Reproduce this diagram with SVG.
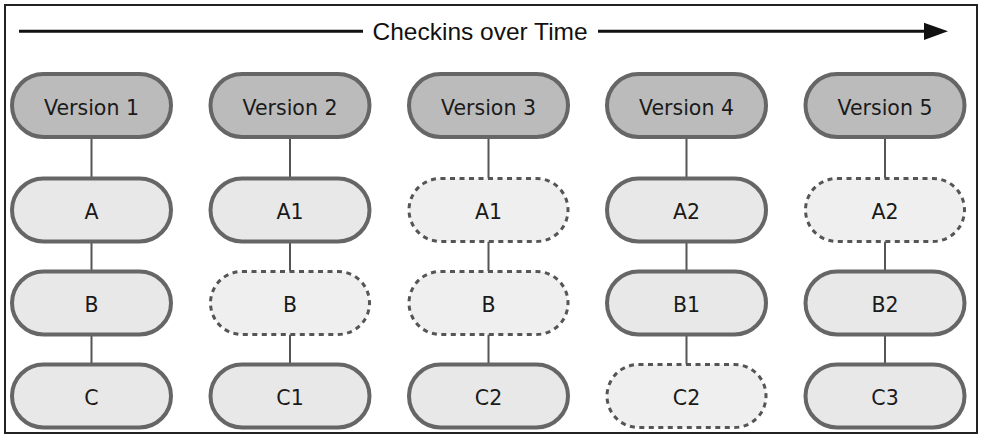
<svg xmlns="http://www.w3.org/2000/svg" width="984" height="442" viewBox="0 0 984 442">
<style>
.frame{fill:#fff;stroke:#222;stroke-width:2}
.ver{fill:#bbbbbb;stroke:#666;stroke-width:4}
.file{fill:#e8e8e8;stroke:#666;stroke-width:4}
.ghost{fill:#efefef;stroke:#555;stroke-width:3;stroke-dasharray:5 4.5}
.lbl{font-family:"DejaVu Sans",Verdana,sans-serif;font-size:20.5px;fill:#1a1a1a;text-anchor:middle}
.title{font-family:"Liberation Sans",Arial,sans-serif;font-size:24.5px;fill:#111}
.conn line{stroke:#555;stroke-width:2}
.axis{stroke:#111;stroke-width:3}
</style>
<rect class="frame" x="5" y="5" width="972" height="428"/>
<g id="timeline">
<line class="axis" x1="19" y1="31.3" x2="363" y2="31.3"/>
<text class="title" x="372.5" y="40">Checkins over Time</text>
<line class="axis" x1="598" y1="31.3" x2="926" y2="31.3"/>
<polygon points="924,22.7 948,31.3 924,40" fill="#111"/>
</g>
<g id="connectors" class="conn">
<line x1="91.5" y1="137" x2="91.5" y2="178.5"/>
<line x1="91.5" y1="241.5" x2="91.5" y2="271.5"/>
<line x1="91.5" y1="334.5" x2="91.5" y2="364.5"/>
<line x1="290" y1="137" x2="290" y2="178.5"/>
<line x1="290" y1="241.5" x2="290" y2="271.5"/>
<line x1="290" y1="334.5" x2="290" y2="364.5"/>
<line x1="488.5" y1="137" x2="488.5" y2="178.5"/>
<line x1="488.5" y1="241.5" x2="488.5" y2="271.5"/>
<line x1="488.5" y1="334.5" x2="488.5" y2="364.5"/>
<line x1="686.5" y1="137" x2="686.5" y2="178.5"/>
<line x1="686.5" y1="241.5" x2="686.5" y2="271.5"/>
<line x1="686.5" y1="334.5" x2="686.5" y2="364.5"/>
<line x1="885" y1="137" x2="885" y2="178.5"/>
<line x1="885" y1="241.5" x2="885" y2="271.5"/>
<line x1="885" y1="334.5" x2="885" y2="364.5"/>
</g>
<g id="v1"><rect class="ver" x="12" y="74" width="159" height="63" rx="31.5"/><text class="lbl" x="91.5" y="114.5">Version 1</text></g>
<g id="v1a"><rect class="file" x="12" y="178.5" width="159" height="63" rx="31.5"/><text class="lbl" x="91.5" y="219">A</text></g>
<g id="v1b"><rect class="file" x="12" y="271.5" width="159" height="63" rx="31.5"/><text class="lbl" x="91.5" y="312">B</text></g>
<g id="v1c"><rect class="file" x="12" y="364.5" width="159" height="63" rx="31.5"/><text class="lbl" x="91.5" y="405">C</text></g>

<g id="v2"><rect class="ver" x="210.5" y="74" width="159" height="63" rx="31.5"/><text class="lbl" x="290" y="114.5">Version 2</text></g>
<g id="v2a"><rect class="file" x="210.5" y="178.5" width="159" height="63" rx="31.5"/><text class="lbl" x="290" y="219">A1</text></g>
<g id="v2b"><rect class="ghost" x="210.5" y="271.5" width="159" height="63" rx="31.5"/><text class="lbl" x="290" y="312">B</text></g>
<g id="v2c"><rect class="file" x="210.5" y="364.5" width="159" height="63" rx="31.5"/><text class="lbl" x="290" y="405">C1</text></g>

<g id="v3"><rect class="ver" x="409" y="74" width="159" height="63" rx="31.5"/><text class="lbl" x="488.5" y="114.5">Version 3</text></g>
<g id="v3a"><rect class="ghost" x="409" y="178.5" width="159" height="63" rx="31.5"/><text class="lbl" x="488.5" y="219">A1</text></g>
<g id="v3b"><rect class="ghost" x="409" y="271.5" width="159" height="63" rx="31.5"/><text class="lbl" x="488.5" y="312">B</text></g>
<g id="v3c"><rect class="file" x="409" y="364.5" width="159" height="63" rx="31.5"/><text class="lbl" x="488.5" y="405">C2</text></g>

<g id="v4"><rect class="ver" x="607" y="74" width="159" height="63" rx="31.5"/><text class="lbl" x="686.5" y="114.5">Version 4</text></g>
<g id="v4a"><rect class="file" x="607" y="178.5" width="159" height="63" rx="31.5"/><text class="lbl" x="686.5" y="219">A2</text></g>
<g id="v4b"><rect class="file" x="607" y="271.5" width="159" height="63" rx="31.5"/><text class="lbl" x="686.5" y="312">B1</text></g>
<g id="v4c"><rect class="ghost" x="607" y="364.5" width="159" height="63" rx="31.5"/><text class="lbl" x="686.5" y="405">C2</text></g>

<g id="v5"><rect class="ver" x="805.5" y="74" width="159" height="63" rx="31.5"/><text class="lbl" x="885" y="114.5">Version 5</text></g>
<g id="v5a"><rect class="ghost" x="805.5" y="178.5" width="159" height="63" rx="31.5"/><text class="lbl" x="885" y="219">A2</text></g>
<g id="v5b"><rect class="file" x="805.5" y="271.5" width="159" height="63" rx="31.5"/><text class="lbl" x="885" y="312">B2</text></g>
<g id="v5c"><rect class="file" x="805.5" y="364.5" width="159" height="63" rx="31.5"/><text class="lbl" x="885" y="405">C3</text></g>
</svg>
